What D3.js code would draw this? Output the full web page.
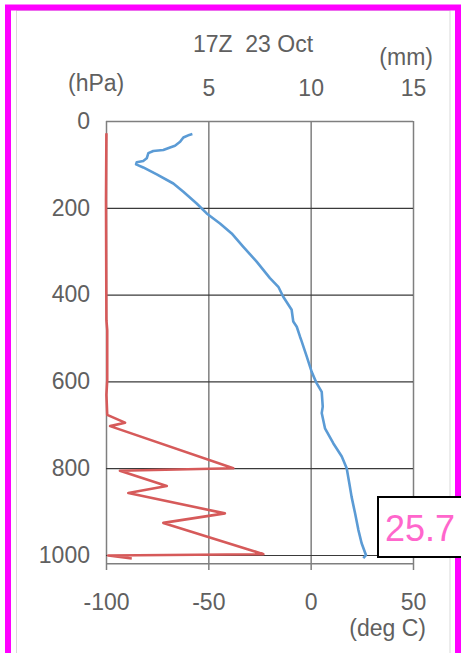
<!DOCTYPE html>
<html>
<head>
<meta charset="utf-8">
<script src="https://cdn.jsdelivr.net/npm/d3@7"></script>
<style>
  html, body { margin: 0; padding: 0; background: #fff; }
  svg { display: block; }
  text { font-family: "Liberation Sans", Arial, sans-serif; }
</style>
</head>
<body>
<svg id="chart" width="461" height="653"></svg>
<script>
// Sounding profile: temperature (deg C, bottom axis) and moisture (mm, top axis) vs pressure
const titleText = "17Z  23 Oct";

const pressureTicks = [0, 200, 400, 600, 800, 1000];
const tempTicks = [-100, -50, 0, 50];
const mmTicks = [5, 10, 15];

// temperature profile
const tempPressure = [30, 32, 38, 48, 57, 61, 67, 69, 74, 86, 92, 95, 100, 107, 123, 144, 163, 190, 213, 236,
  259, 290, 324, 362, 382, 405, 435, 462, 474, 497, 505, 543, 578, 604, 624, 658, 673, 708, 743, 773,
  800, 835, 866, 904, 942, 973, 1000, 1007];
const tempValues = [-57.8, -59.3, -62.2, -63.8, -66.3, -68.7, -72.0, -76.9, -79.3, -80.1, -81.8, -85.0, -85.3, -81.8, -75.2, -67.1, -62.2, -55.7, -50.8, -44.3,
  -38.6, -32.9, -26.4, -19.9, -15.8, -13.4, -9.3, -8.5, -6.8, -5.2, -4.6, -1.9, 0.5, 2.9, 5.4, 5.9, 5.4, 7.0, 11.1, 15.2,
  17.6, 18.9, 20.0, 21.7, 23.3, 24.9, 27.0, 25.7];

// moisture profile (mm)
const mmPressure = [28, 182, 459, 482, 597, 631, 677, 695, 703, 800, 806, 841, 857, 904, 926, 998, 1001, 1008];
const mmValues = [0.02, 0.0, 0.02, 0.06, 0.06, 0.02, 0.06, 0.93, 0.2, 6.22, 0.68, 2.97, 1.09, 5.81, 2.8, 7.69, 0.11, 1.26];

const surfaceLabel = tempValues[tempValues.length - 1];

const svg = d3.select("#chart");
const W = 461, H = 653;
const plotLeft = 106, plotRight = 413, plotTop = 121, plotBottom = 563.7;

const x = d3.scaleLinear().domain([-100, 50]).range([plotLeft, plotRight]);
const xMM = d3.scaleLinear().domain([0, 15]).range([plotLeft, plotRight]);
const y = d3.scaleLinear().domain([0, 1020]).range([plotTop, plotBottom]);

const textColor = "#606060";
const fontSize = 23;
const fontFamily = "'Liberation Sans', Arial, sans-serif";
const plain = d => String(d);

svg.append("rect").attr("width", W).attr("height", H).attr("fill", "#fff");

// chart frame
svg.append("rect")
  .attr("x", 16.5).attr("y", 10.5).attr("width", 433.5).attr("height", 700)
  .attr("fill", "none").attr("stroke", "#d9d9d9").attr("stroke-width", 1);
svg.append("rect")
  .attr("x", 8).attr("y", 7.5).attr("width", 450).attr("height", 700)
  .attr("fill", "none").attr("stroke", "#ff00ff").attr("stroke-width", 6);

// vertical grid lines + bottom tick labels
const xAxisG = svg.append("g")
  .attr("transform", "translate(0,570)")
  .call(d3.axisBottom(x).tickValues(tempTicks).tickFormat(plain)
    .tickSize(-(570 - plotTop)).tickPadding(24).tickSizeOuter(0));
xAxisG.select(".domain").remove();
xAxisG.selectAll(".tick line").attr("stroke", "#7f7f7f").attr("stroke-width", 1.5);
xAxisG.selectAll(".tick text")
  .attr("fill", textColor).attr("font-size", fontSize).attr("font-family", fontFamily);

// horizontal grid lines + left tick labels
const yAxisG = svg.append("g")
  .attr("transform", `translate(${plotLeft},0)`)
  .call(d3.axisLeft(y).tickValues(pressureTicks).tickFormat(plain)
    .tickSize(-(plotRight - plotLeft)).tickPadding(16).tickSizeOuter(0));
yAxisG.select(".domain").remove();
yAxisG.selectAll(".tick line")
  .attr("stroke", d => d === 0 ? "#7f7f7f" : "#3a3a3a")
  .attr("stroke-width", d => d === 0 ? 1.5 : 1.2);
yAxisG.selectAll(".tick text")
  .attr("fill", textColor).attr("font-size", fontSize).attr("font-family", fontFamily);

// bottom axis line
svg.append("line")
  .attr("x1", plotLeft).attr("x2", plotRight).attr("y1", plotBottom).attr("y2", plotBottom)
  .attr("stroke", "#7f7f7f").attr("stroke-width", 1.5);

// top axis labels (mm)
const topAxisG = svg.append("g")
  .attr("transform", `translate(0,${plotTop})`)
  .call(d3.axisTop(xMM).tickValues(mmTicks).tickFormat(plain).tickSize(0).tickPadding(25));
topAxisG.select(".domain").remove();
topAxisG.selectAll(".tick text")
  .attr("fill", textColor).attr("font-size", fontSize).attr("font-family", fontFamily);

// profiles
const tempLine = d3.line().x(d => x(d[1])).y(d => y(d[0]));
const mmLine = d3.line().x(d => xMM(d[1])).y(d => y(d[0]));

svg.append("path")
  .datum(d3.zip(mmPressure, mmValues))
  .attr("d", mmLine)
  .attr("fill", "none").attr("stroke", "#d65a5a").attr("stroke-width", 2.6)
  .attr("stroke-linejoin", "round");

svg.append("path")
  .datum(d3.zip(tempPressure, tempValues))
  .attr("d", tempLine)
  .attr("fill", "none").attr("stroke", "#5b9bd5").attr("stroke-width", 2.6)
  .attr("stroke-linejoin", "round");

// titles and unit labels
svg.append("text").attr("x", 253).attr("y", 52).attr("text-anchor", "middle")
  .style("white-space", "pre")
  .attr("fill", textColor).attr("font-size", fontSize).text(titleText);
svg.append("text").attr("x", 68).attr("y", 91)
  .attr("fill", textColor).attr("font-size", fontSize).text("(hPa)");
svg.append("text").attr("x", 433).attr("y", 65).attr("text-anchor", "end")
  .attr("fill", textColor).attr("font-size", fontSize).text("(mm)");
svg.append("text").attr("x", 426).attr("y", 636).attr("text-anchor", "end")
  .attr("fill", textColor).attr("font-size", fontSize).text("(deg C)");

// surface temperature callout
svg.append("rect")
  .attr("x", 378).attr("y", 497).attr("width", 100).attr("height", 60)
  .attr("fill", "#fff").attr("stroke", "#000").attr("stroke-width", 2);
svg.append("text").attr("x", 385).attr("y", 541)
  .attr("fill", "#ff66cc").attr("font-size", 36)
  .text(surfaceLabel.toFixed(1));
</script>
</body>
</html>
